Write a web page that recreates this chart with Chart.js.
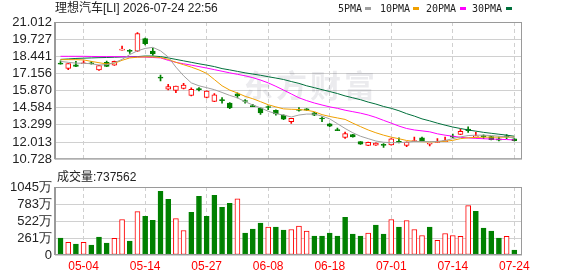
<!DOCTYPE html>
<html>
<head>
<meta charset="utf-8">
<script src="https://cdn.jsdelivr.net/npm/chart.js@4.4.1/dist/chart.umd.min.js"></script>
<style>
  body { margin: 0; background: #fff; }
  #wrap { position: relative; width: 578px; height: 276px; overflow: hidden; color: #222;
          font-family: "Liberation Sans", "Noto Sans CJK SC", sans-serif; }
  canvas { position: absolute; left: 0; }
  .txt { position: absolute; white-space: nowrap; font-size: 12px; line-height: 14px; }
  .lg { position: absolute; top: 3px; font: 10px "DejaVu Sans Mono", monospace; line-height: 12px; color: #222; }
  .sw { position: absolute; top: 7px; width: 6px; height: 3px; }
</style>
</head>
<body>
<div id="wrap">
  <canvas id="kline" width="578" height="170" style="top:0"></canvas>
  <canvas id="vol" width="578" height="106" style="top:170px"></canvas>
  <div class="txt" style="left:55px;top:1px">理想汽车[LI] 2026-07-24 22:56</div>
  <span class="lg" style="left:338px">5PMA</span><span class="sw" style="left:365px;background:#a0a0a0"></span>
  <span class="lg" style="left:380px">10PMA</span><span class="sw" style="left:413px;background:#f0a000"></span>
  <span class="lg" style="left:426px">20PMA</span><span class="sw" style="left:460px;background:#ff00ff"></span>
  <span class="lg" style="left:472px">30PMA</span><span class="sw" style="left:506px;background:#00703c"></span>
  <div class="txt" style="left:57px;top:170px">成交量:737562</div>
</div>
<script>
// trading days shown (MM-DD)
const dates = ['04-29', '04-30', '05-01', '05-04', '05-05', '05-06', '05-07', '05-08', '05-11', '05-12',
  '05-13', '05-14', '05-15', '05-18', '05-19', '05-20', '05-21', '05-22', '05-26', '05-27',
  '05-28', '05-29', '06-01', '06-02', '06-03', '06-04', '06-05', '06-08', '06-09', '06-10',
  '06-11', '06-12', '06-15', '06-16', '06-17', '06-18', '06-22', '06-23', '06-24', '06-25',
  '06-26', '06-29', '06-30', '07-01', '07-02', '07-06', '07-07', '07-08', '07-09', '07-10',
  '07-13', '07-14', '07-15', '07-16', '07-17', '07-20', '07-21', '07-22', '07-23', '07-24'];

const opens = [17.88, 17.54, 17.80, 17.88, 17.91, 17.42, 17.99, 17.78, 18.90, 18.85,
  18.83, 19.77, 18.83, 16.84, 15.98, 15.89, 16.03, 15.50, 15.97, 15.35,
  15.06, 15.15, 14.93, 15.62, 15.08, 14.70, 14.56, 14.62, 14.40, 14.04,
  13.55, 14.40, 14.50, 14.20, 13.77, 13.37, 12.90, 12.36, 12.58, 12.04,
  11.76, 11.78, 11.78, 11.79, 12.06, 11.76, 12.05, 12.33, 11.85, 11.98,
  12.04, 12.40, 12.58, 12.98, 12.40, 12.45, 12.43, 12.25, 12.44, 12.26];
const highs = [18.10, 17.90, 18.06, 18.10, 18.04, 17.76, 18.08, 18.08, 19.21, 18.95,
  20.22, 19.80, 19.05, 17.03, 16.34, 16.21, 16.41, 16.07, 16.10, 15.85,
  15.64, 15.35, 14.98, 15.71, 15.19, 14.85, 14.58, 14.73, 14.42, 14.06,
  13.80, 14.60, 14.52, 14.24, 13.90, 13.40, 13.06, 12.76, 12.60, 12.05,
  12.01, 11.95, 11.90, 12.27, 12.33, 12.03, 12.38, 12.38, 11.88, 12.27,
  12.38, 12.62, 12.98, 13.15, 12.74, 12.56, 12.45, 12.40, 12.58, 12.28];
const lows = [17.85, 17.44, 17.66, 17.88, 17.85, 17.38, 17.66, 17.75, 18.90, 18.66,
  18.80, 19.30, 18.52, 16.60, 15.93, 15.71, 16.00, 15.48, 15.84, 15.33,
  15.04, 14.92, 14.52, 15.33, 14.92, 14.67, 14.09, 14.44, 14.02, 13.70,
  13.41, 14.32, 14.39, 13.99, 13.55, 13.17, 12.86, 12.29, 12.37, 11.84,
  11.74, 11.76, 11.61, 11.78, 11.95, 11.66, 12.05, 12.08, 11.72, 11.98,
  12.04, 12.35, 12.57, 12.74, 12.40, 12.27, 12.17, 12.10, 12.27, 12.09];
const closes = [17.86, 17.90, 17.68, 17.90, 17.88, 17.75, 17.68, 18.07, 18.93, 18.81,
  20.15, 19.38, 18.62, 16.80, 16.18, 16.20, 16.29, 15.96, 15.94, 15.83,
  15.55, 15.12, 14.57, 15.48, 15.05, 14.67, 14.20, 14.60, 14.13, 13.73,
  13.80, 14.38, 14.41, 14.02, 13.74, 13.20, 12.87, 12.65, 12.40, 11.86,
  12.00, 11.93, 11.76, 12.26, 11.98, 12.02, 12.07, 12.09, 11.87, 12.00,
  12.07, 12.38, 12.81, 12.87, 12.44, 12.42, 12.19, 12.15, 12.40, 12.11];

// volume in 万 shares
const volumes = [260, 193, 168, 193, 153, 275, 183, 255, 545, 214,
  667, 596, 534, 977, 855, 560, 377, 657, 901, 596,
  916, 733, 794, 865, 336, 397, 489, 428, 428, 382,
  392, 443, 366, 290, 290, 336, 290, 580, 321, 290,
  336, 458, 321, 545, 428, 529, 392, 300, 428, 224,
  331, 300, 285, 758, 672, 412, 366, 260, 285, 73.76];

const ma5 = [18.06, 17.99, 17.93, 17.92, 17.88, 17.79, 17.81, 17.96, 18.21, 18.57,
  18.85, 19.03, 19.11, 18.85, 18.39, 17.63, 16.98, 16.45, 16.23, 16.09,
  15.94, 15.73, 15.51, 15.33, 15.04, 14.79, 14.58, 14.32, 14.14, 14.04,
  13.89, 14.04, 14.11, 14.11, 13.96, 13.75, 13.39, 13.03, 12.71, 12.45,
  12.27, 12.09, 12.00, 11.97, 11.97, 12.00, 12.06, 12.06, 12.04, 12.06,
  12.13, 12.27, 12.40, 12.50, 12.53, 12.53, 12.50, 12.45, 12.40, 12.35];
const ma10 = [18.19, 18.19, 18.19, 18.17, 18.06, 17.96, 17.87, 17.92, 18.14, 18.32,
  18.37, 18.40, 18.39, 18.35, 18.21, 17.99, 17.81, 17.63, 17.42, 17.16,
  16.70, 16.23, 15.91, 15.69, 15.44, 15.26, 15.04, 14.81, 14.65, 14.50,
  14.47, 14.45, 14.40, 14.29, 14.07, 13.93, 13.82, 13.71, 13.43, 13.17,
  12.92, 12.71, 12.53, 12.38, 12.26, 12.13, 12.06, 12.04, 12.02, 12.04,
  12.07, 12.14, 12.27, 12.33, 12.36, 12.38, 12.38, 12.38, 12.38, 12.38];
const ma20 = [18.44, 18.44, 18.44, 18.44, 18.43, 18.42, 18.42, 18.42, 18.41, 18.40,
  18.39, 18.38, 18.35, 18.32, 18.14, 17.99, 17.88, 17.78, 17.67, 17.56,
  17.44, 17.32, 17.20, 17.09, 16.98, 16.84, 16.66, 16.45, 16.19, 15.91,
  15.62, 15.33, 15.12, 14.94, 14.79, 14.65, 14.54, 14.40, 14.29, 14.18,
  14.04, 13.86, 13.64, 13.43, 13.21, 13.03, 12.92, 12.85, 12.78, 12.63,
  12.53, 12.45, 12.37, 12.32, 12.29, 12.26, 12.24, 12.22, 12.20, 12.17];
const ma30 = [18.21, 18.24, 18.28, 18.30, 18.32, 18.34, 18.35, 18.37, 18.39, 18.41,
  18.42, 18.46, 18.46, 18.42, 18.32, 18.21, 18.10, 17.99, 17.88, 17.78,
  17.67, 17.52, 17.42, 17.31, 17.20, 17.11, 17.02, 16.91, 16.81, 16.70,
  16.55, 16.41, 16.23, 16.09, 15.94, 15.80, 15.65, 15.47, 15.33, 15.19,
  15.01, 14.86, 14.68, 14.54, 14.36, 14.14, 13.96, 13.75, 13.60, 13.43,
  13.28, 13.14, 13.03, 12.92, 12.83, 12.74, 12.67, 12.60, 12.53, 12.45];

const priceTicks = [10.728, 12.013, 13.299, 14.584, 15.870, 17.156, 18.441, 19.727, 21.012];
const volumeTicks = [0, 261, 522, 783, 1045];
const xTickLabels = ['05-04', '05-14', '05-27', '06-08', '06-18', '07-01', '07-14', '07-24'];

const RED = '#ff0000';
const GREEN = '#008000';
const GRID = '#d0d0d0';
const xMin = -0.72, xMax = 60.0;

const tickIdx = xTickLabels.map(d => dates.indexOf(d));
const isUp = i => closes[i] >= opens[i];
const volUp = i => i === 0 ? isUp(0) : closes[i] >= closes[i - 1];

// grey box round the plot area, heavier on the left
const frame = {
  id: 'frame',
  afterDraw(chart) {
    const a = chart.chartArea, ctx = chart.ctx;
    ctx.save();
    ctx.strokeStyle = '#9a9a9a';
    ctx.lineWidth = 1;
    ctx.strokeRect(a.left + 0.5, a.top + 0.5, a.right - a.left - 1, a.bottom - a.top - 1);
    ctx.fillStyle = '#9a9a9a';
    ctx.fillRect(a.left - 1, a.top, 2, a.bottom - a.top);
    ctx.restore();
  }
};

// faint site watermark behind the candles
const watermark = {
  id: 'watermark',
  beforeDatasetsDraw(chart) {
    const ctx = chart.ctx;
    ctx.save();
    ctx.fillStyle = 'rgba(60,60,90,0.10)';
    ctx.font = 'bold 31px "Noto Sans CJK SC"';
    ctx.textBaseline = 'top';
    '东方财富'.split('').forEach((c, k) => ctx.fillText(c, 242 + k * 34, 70));
    ctx.restore();
  }
};

const xAxis = (showLabels) => ({
  type: 'linear',
  offset: false,
  min: xMin,
  max: xMax,
  afterBuildTicks: s => { s.ticks = tickIdx.map(v => ({ value: v })); },
  afterFit: s => { s.height = showLabels ? 21 : 0; },
  ticks: {
    display: showLabels,
    autoSkip: false,
    maxRotation: 0,
    color: RED,
    padding: 4,
    font: { family: 'Liberation Sans', size: 12 },
    callback: v => dates[v]
  },
  grid: { color: GRID, drawTicks: false, offset: false },
  border: { display: false, dash: [4, 3] }
});

new Chart(document.getElementById('kline'), {
  type: 'bar',
  data: {
    datasets: [
      { type: 'line', data: ma5.map((v, i) => ({ x: i, y: v })), borderColor: '#a0a0a0', borderWidth: 1, pointRadius: 0, order: 0 },
      { type: 'line', data: ma10.map((v, i) => ({ x: i, y: v })), borderColor: '#f0a000', borderWidth: 1, pointRadius: 0, order: 0 },
      { type: 'line', data: ma20.map((v, i) => ({ x: i, y: v })), borderColor: '#ff00ff', borderWidth: 1, pointRadius: 0, order: 0 },
      { type: 'line', data: ma30.map((v, i) => ({ x: i, y: v })), borderColor: '#00703c', borderWidth: 1, pointRadius: 0, order: 0 },
      {
        // candle bodies
        data: opens.map((o, i) => ({ x: i, y: [o, closes[i]] })),
        backgroundColor: opens.map((o, i) => isUp(i) ? '#fff' : GREEN),
        borderColor: opens.map((o, i) => isUp(i) ? RED : GREEN),
        borderWidth: 1,
        borderSkipped: false,
        barThickness: 5,
        minBarLength: 1,
        grouped: false,
        order: 2
      },
      {
        // wicks
        data: lows.map((l, i) => ({ x: i, y: [l, highs[i]] })),
        backgroundColor: lows.map((l, i) => isUp(i) ? RED : GREEN),
        borderWidth: 0,
        barThickness: 1,
        grouped: false,
        order: 3
      }
    ]
  },
  options: {
    responsive: false,
    animation: false,
    devicePixelRatio: 1,
    layout: { padding: { top: 22, right: 56, bottom: 5, left: 0 } },
    plugins: { legend: { display: false }, tooltip: { enabled: false } },
    scales: {
      x: xAxis(false),
      y: {
        min: 10.728,
        max: 21.012,
        afterBuildTicks: s => { s.ticks = priceTicks.map(v => ({ value: v })); },
        afterFit: s => { s.width = 55; },
        ticks: { color: '#222', padding: 3, autoSkip: false, font: { family: 'Liberation Sans', size: 13 }, callback: v => v.toFixed(3) },
        grid: { color: GRID, drawTicks: false },
        border: { display: false }
      }
    }
  },
  plugins: [watermark, frame]
});

new Chart(document.getElementById('vol'), {
  type: 'bar',
  data: {
    datasets: [{
      data: volumes.map((v, i) => ({ x: i, y: v })),
      backgroundColor: volumes.map((v, i) => volUp(i) ? '#fff' : GREEN),
      borderColor: volumes.map((v, i) => volUp(i) ? RED : GREEN),
      borderWidth: 1,
      borderSkipped: false,
      barThickness: 5,
      grouped: false
    }]
  },
  options: {
    responsive: false,
    animation: false,
    devicePixelRatio: 1,
    layout: { padding: { top: 17, right: 56, bottom: 0, left: 0 } },
    plugins: { legend: { display: false }, tooltip: { enabled: false } },
    scales: {
      x: xAxis(true),
      y: {
        min: 0,
        max: 1045,
        afterBuildTicks: s => { s.ticks = volumeTicks.map(v => ({ value: v })); },
        afterFit: s => { s.width = 55; },
        ticks: { color: '#222', padding: 3, autoSkip: false, font: { family: 'Liberation Sans', size: 13 }, callback: v => v === 0 ? '0' : v + '万' },
        grid: { color: GRID, drawTicks: false },
        border: { display: false }
      }
    }
  },
  plugins: [frame]
});
</script>
</body>
</html>
